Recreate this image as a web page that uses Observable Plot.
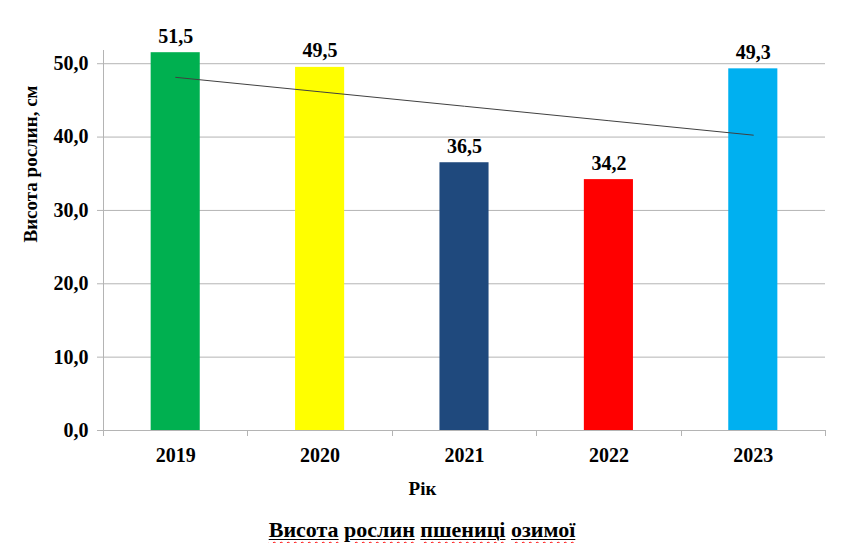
<!DOCTYPE html>
<html>
<head>
<meta charset="utf-8">
<script src="https://cdn.jsdelivr.net/npm/d3@7"></script>
<script src="https://cdn.jsdelivr.net/npm/@observablehq/plot@0.6"></script>
<style>
  html, body { margin: 0; padding: 0; background: #fff; }
  body { font-family: 'Liberation Serif'; }
  #chart { width: 844px; }
  #chart svg, #chart svg text { font-family: 'Liberation Serif' !important; }
  #caption {
    width: 844px; text-align: center; margin-top: 17px;
    font-weight: bold; font-size: 22px; line-height: 26px; color: #000;
  }
  #caption .w { text-decoration: underline solid #000 1px; text-underline-offset: 2px; }
  #caption .w span { text-decoration-line: underline; text-decoration-style: wavy;
    text-decoration-color: #ff0000; text-decoration-thickness: 1px; text-underline-offset: 4px; }
</style>
</head>
<body>
<div id="chart"></div>
<div id="caption" style="font-family:'Liberation Serif'"></div>
<script>
const years = ["2019", "2020", "2021", "2022", "2023"];
const heights = [51.5, 49.5, 36.5, 34.2, 49.3];
const colors = ["#00B050", "#FFFF00", "#1F497D", "#FF0000", "#00B0F0"];
const yTicks = [0, 10, 20, 30, 40, 50];
const yLabel = "Висота рослин, см";
const xLabel = "Рік";
const captionText = "Висота рослин пшениці озимої";

const fmt = v => d3.format(".1f")(v).replace(".", ",");
const data = years.map((year, i) => ({year, value: heights[i], color: colors[i]}));

// linear trend (least squares) of the series, as in the original chart
const xs = heights.map((_, i) => i);
const mx = d3.mean(xs), my = d3.mean(heights);
const slope = d3.sum(xs, (x, i) => (x - mx) * (heights[i] - my)) / d3.sum(xs, x => (x - mx) ** 2);
const trend = years.map((year, i) => ({year, value: my + slope * (i - mx)}));

const font = "Liberation Serif";
const gridColor = "#b4b4b4";

const boundaries = (index, scales, values, dimensions) => {
  const x = scales.x, y = scales.y;
  const g = d3.create("svg:g").attr("stroke", gridColor).attr("stroke-width", 1);
  const step = x.step();
  const bandStart = x(years[0]) - (step - x.bandwidth()) / 2;
  const y0 = y(0);
  g.append("line").attr("x1", dimensions.marginLeft + 0.5).attr("x2", dimensions.marginLeft + 0.5)
    .attr("y1", dimensions.marginTop).attr("y2", y0);
  for (let i = 0; i <= years.length; i++) {
    const bx = Math.round(bandStart + i * step) + 0.5;
    g.append("line").attr("x1", bx).attr("x2", bx).attr("y1", y0).attr("y2", y0 + 6);
  }
  return g.node();
};

const txt = {fontFamily: font, fontWeight: "bold", fill: "#000"};

const plot = Plot.plot({
  width: 844,
  height: 500,
  marginLeft: 103,
  marginRight: 19,
  marginTop: 50,
  marginBottom: 70,
  style: {fontFamily: font, background: "#fff"},
  x: {domain: years, paddingInner: 0.66, paddingOuter: 0.33, round: false, label: null},
  y: {domain: [0, 51.8], label: null},
  color: {type: "identity"},
  marks: [
    Plot.ruleY(yTicks, {y: d => d, stroke: gridColor, strokeWidth: 1}),
    boundaries,
    Plot.barY(data, {x: "year", y: "value", fill: "color"}),
    Plot.line(trend, {x: "year", y: "value", stroke: "#404040", strokeWidth: 1}),
    Plot.text(data, {x: "year", y: "value", text: d => fmt(d.value), dy: -10, lineAnchor: "bottom",
      fontSize: 20, ...txt}),
    Plot.axisY({ticks: yTicks, tickFormat: fmt, tickSize: 6, tickPadding: 9, stroke: gridColor,
      fontSize: 20, ...txt, label: null}),
    Plot.axisX({tickSize: 0, tickPadding: 17, fontSize: 20, ...txt, label: null}),
    Plot.text([yLabel], {frameAnchor: "left", rotate: -90, dx: -73, dy: 2, fontSize: 19,
      lineAnchor: "middle", ...txt}),
    Plot.text([xLabel], {frameAnchor: "bottom", dx: -42, dy: 58, fontSize: 19,
      lineAnchor: "middle", ...txt})
  ]
});
document.getElementById("chart").appendChild(plot);

const cap = document.getElementById("caption");
captionText.split(" ").forEach((w, i) => {
  if (i > 0) cap.appendChild(document.createTextNode(" "));
  const outer = document.createElement("span");
  outer.className = "w";
  const inner = document.createElement("span");
  inner.textContent = w;
  outer.appendChild(inner);
  cap.appendChild(outer);
});
</script>
</body>
</html>
